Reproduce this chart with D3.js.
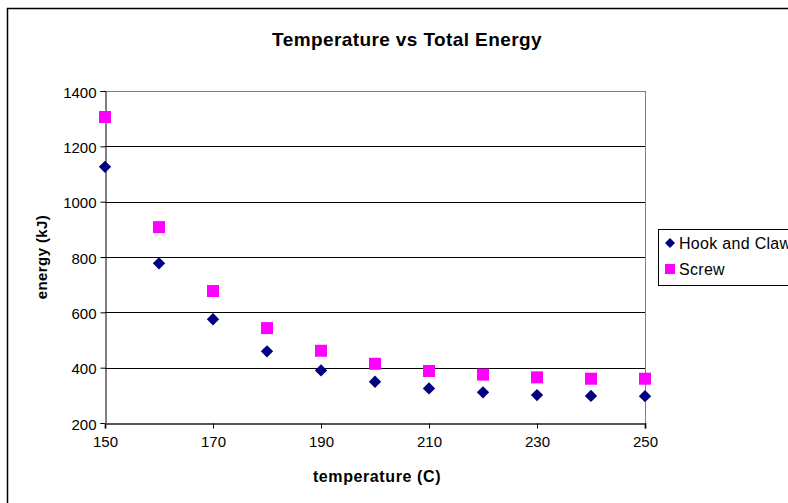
<!DOCTYPE html>
<html><head><meta charset="utf-8">
<script src="https://cdn.jsdelivr.net/npm/d3@7"></script>
<style>body{margin:0;background:#fff;}svg{display:block;font-family:"Liberation Sans",Arial,sans-serif;}</style>
</head><body>
<svg id="c" width="788" height="503"></svg>
<script>
const temperatures = [150,160,170,180,190,200,210,220,230,240,250];
const hookAndClaw = [1126,777,575,459,390,349,325,311,301,298,297];
const screw = [1306,908,677,543,461,414,388,375,365,360,360];
const xTicks = [150,170,190,210,230,250];
const yTicks = [200,400,600,800,1000,1200,1400];
const seriesNames = ["Hook and Claw","Screw"];
const seriesColors = ["#000080","#FF00FF"];

const svg = d3.select("#c");
// outer frame
svg.append("rect").attr("x",7.5).attr("y",8.5).attr("width",800).attr("height",520)
  .attr("fill","#fff").attr("stroke","#000").attr("stroke-width",1.5);

const x = d3.scaleLinear().domain([150,250]).range([105,645]);
const y = d3.scaleLinear().domain([200,1400]).range([423,91]);

// gridlines
svg.append("g").selectAll("line").data(yTicks.filter(v=>v>200&&v<1400)).join("line")
  .attr("x1",105).attr("x2",645).attr("y1",d=>Math.round(y(d))+0.5).attr("y2",d=>Math.round(y(d))+0.5)
  .attr("stroke","#000").attr("stroke-width",1);
// plot border top/right grey
svg.append("line").attr("x1",105).attr("x2",645).attr("y1",91.5).attr("y2",91.5).attr("stroke","#808080");
svg.append("line").attr("x1",645.5).attr("x2",645.5).attr("y1",91).attr("y2",423).attr("stroke","#808080");

// y axis
const yAxis = d3.axisLeft(y).tickValues(yTicks).tickSize(5).tickPadding(4).tickFormat(d3.format("d"));
const gy = svg.append("g").attr("transform","translate(105.5,0)").call(yAxis);
gy.select(".domain").attr("stroke","#000");
gy.selectAll("text").attr("font-size",15).attr("fill","#000").attr("dy","0.4em").attr("font-family","Liberation Sans, Arial, sans-serif");
// x axis
const xAxis = d3.axisBottom(x).tickValues(xTicks).tickSize(5).tickPadding(8).tickFormat(d3.format("d"));
const gx = svg.append("g").attr("transform","translate(0,423.5)").call(xAxis);
gx.select(".domain").attr("stroke","#555").attr("stroke-width",2);
gx.selectAll("text").attr("font-size",15).attr("fill","#000").attr("font-family","Liberation Sans, Arial, sans-serif");

// series
const hc = temperatures.map((t,i)=>({t,v:hookAndClaw[i]}));
const sc = temperatures.map((t,i)=>({t,v:screw[i]}));
svg.append("g").selectAll("path").data(hc).join("path")
  .attr("d",d3.symbol(d3.symbolSquare,76)())
  .attr("transform",d=>`translate(${x(d.t)},${y(d.v)}) rotate(45)`)
  .attr("fill",seriesColors[0]);
svg.append("g").selectAll("rect").data(sc).join("rect")
  .attr("x",d=>x(d.t)-6).attr("y",d=>y(d.v)-6).attr("width",12).attr("height",12)
  .attr("fill",seriesColors[1]);

// titles
svg.append("text").attr("x",407).attr("y",46).attr("text-anchor","middle")
  .attr("font-size",19).attr("font-weight","bold").attr("letter-spacing",0.4).text("Temperature vs Total Energy");
svg.append("text").attr("x",377).attr("y",482).attr("text-anchor","middle")
  .attr("font-size",16).attr("font-weight","bold").attr("letter-spacing",0.6).text("temperature (C)");
svg.append("text").attr("transform","translate(47,257) rotate(-90)").attr("text-anchor","middle")
  .attr("font-size",15).attr("font-weight","bold").attr("letter-spacing",0.4).text("energy (kJ)");

// legend
const lg = svg.append("g");
lg.append("rect").attr("x",658.5).attr("y",229.5).attr("width",160).attr("height",56)
  .attr("fill","#fff").attr("stroke","#000");
seriesNames.forEach((n,i)=>{
  const cy = 243 + i*26;
  if(i===0){
    lg.append("path").attr("d",d3.symbol(d3.symbolSquare,50)())
      .attr("transform",`translate(670,${cy}) rotate(45)`).attr("fill",seriesColors[0]);
  } else {
    lg.append("rect").attr("x",665).attr("y",cy-5).attr("width",10).attr("height",10).attr("fill",seriesColors[1]);
  }
  lg.append("text").attr("x",679).attr("y",cy+5.5).attr("font-size",16).attr("letter-spacing",0.3).text(n);
});
</script>
</body></html>
